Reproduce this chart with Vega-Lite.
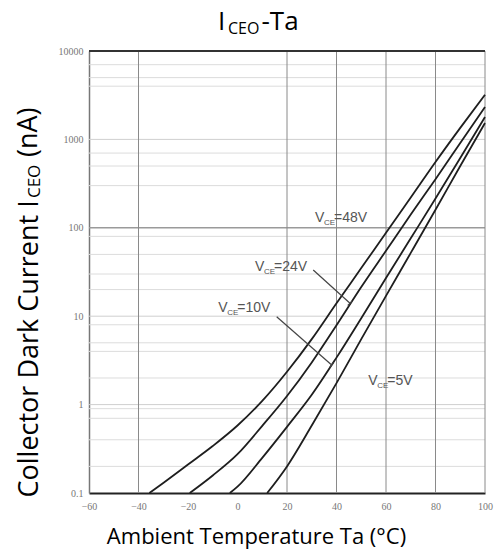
{
  "$schema": "https://vega.github.io/schema/vega-lite/v6.json",
  "description": "ICEO-Ta: Collector Dark Current ICEO (nA) vs Ambient Temperature Ta (°C)",
  "width": 396,
  "height": 442,
  "autosize": {"type": "none"},
  "padding": {"left": 89, "top": 51, "right": 10, "bottom": 63},
  "background": "white",
  "config": {"view": {"stroke": null}},
  "datasets": {
    "curves": [
      {"series": "48V", "T": -35.6, "I": 0.1},
      {"series": "48V", "T": -30, "I": 0.13},
      {"series": "48V", "T": -20, "I": 0.21},
      {"series": "48V", "T": -10, "I": 0.34},
      {"series": "48V", "T": 0, "I": 0.58},
      {"series": "48V", "T": 10, "I": 1.1},
      {"series": "48V", "T": 20, "I": 2.35},
      {"series": "48V", "T": 30, "I": 5.5},
      {"series": "48V", "T": 40, "I": 14},
      {"series": "48V", "T": 50, "I": 35},
      {"series": "48V", "T": 60, "I": 88},
      {"series": "48V", "T": 70, "I": 220},
      {"series": "48V", "T": 80, "I": 555},
      {"series": "48V", "T": 90, "I": 1350},
      {"series": "48V", "T": 100, "I": 3200},
      {"series": "24V", "T": -19.3, "I": 0.1},
      {"series": "24V", "T": -10, "I": 0.158},
      {"series": "24V", "T": 0, "I": 0.275},
      {"series": "24V", "T": 10, "I": 0.575},
      {"series": "24V", "T": 20, "I": 1.25},
      {"series": "24V", "T": 30, "I": 3.0},
      {"series": "24V", "T": 40, "I": 7.9},
      {"series": "24V", "T": 50, "I": 21.4},
      {"series": "24V", "T": 60, "I": 55},
      {"series": "24V", "T": 70, "I": 141},
      {"series": "24V", "T": 80, "I": 355},
      {"series": "24V", "T": 90, "I": 910},
      {"series": "24V", "T": 100, "I": 2330},
      {"series": "10V", "T": -3.1, "I": 0.1},
      {"series": "10V", "T": 0, "I": 0.118},
      {"series": "10V", "T": 10, "I": 0.25},
      {"series": "10V", "T": 20, "I": 0.56},
      {"series": "10V", "T": 30, "I": 1.29},
      {"series": "10V", "T": 40, "I": 3.4},
      {"series": "10V", "T": 50, "I": 9.5},
      {"series": "10V", "T": 60, "I": 27},
      {"series": "10V", "T": 70, "I": 76},
      {"series": "10V", "T": 80, "I": 214},
      {"series": "10V", "T": 90, "I": 615},
      {"series": "10V", "T": 100, "I": 1795},
      {"series": "5V", "T": 12, "I": 0.1},
      {"series": "5V", "T": 20, "I": 0.2},
      {"series": "5V", "T": 30, "I": 0.58},
      {"series": "5V", "T": 40, "I": 1.75},
      {"series": "5V", "T": 50, "I": 5.5},
      {"series": "5V", "T": 60, "I": 17},
      {"series": "5V", "T": 70, "I": 52},
      {"series": "5V", "T": 80, "I": 160},
      {"series": "5V", "T": 90, "I": 500},
      {"series": "5V", "T": 100, "I": 1535}
    ],
    "hminor": [
      {"I": 0.2}, {"I": 0.4}, {"I": 0.7}, {"I": 0.9},
      {"I": 2}, {"I": 4}, {"I": 5}, {"I": 8},
      {"I": 20}, {"I": 30}, {"I": 50},
      {"I": 80}, {"I": 300}, {"I": 500}, {"I": 700},
      {"I": 4000}, {"I": 5000}, {"I": 7000}
    ],
    "hmajor": [{"I": 1}, {"I": 10}, {"I": 1000}],
    "h100": [{"I": 100}],
    "vgrid": [{"T": -40}, {"T": 20}, {"T": 40}, {"T": 60}, {"T": 80}, {"T": 100}],
    "topline": [{"I": 10000}],
    "arrows": [
      {"T": 30.6, "I": 33.3, "T2": 45.45, "I2": 14.0},
      {"T": 44.55, "I": 13.2, "T2": 46.34, "I2": 14.8},
      {"T": 15.83, "I": 9.87, "T2": 38.06, "I2": 2.81},
      {"T": 37.25, "I": 2.64, "T2": 38.87, "I2": 2.98}
    ],
    "vce": [
      {"T": 31.3, "I": 116, "rest": "=48V"},
      {"T": 7.07, "I": 32.4, "rest": "=24V"},
      {"T": -7.76, "I": 11.1, "rest": "=10V"},
      {"T": 52.85, "I": 1.67, "rest": "=5V"}
    ],
    "titleMain": [
      {"T": -7.88, "I": 17290, "text": "I"},
      {"T": 9.7, "I": 17290, "text": "-Ta"}
    ],
    "titleSub": [{"T": -3.84, "I": 15570, "text": "CEO"}],
    "ySub": [{"T": -79.8, "I": 217, "text": "CEO"}],
    "yMain": [{"T": -81.0, "I": 632, "text": "(nA)"}]
  },
  "layer": [
    {
      "data": {"name": "hminor"},
      "mark": {"type": "rule", "color": "#dcdcdc", "strokeWidth": 1},
      "encoding": {
        "y": {
          "field": "I", "type": "quantitative",
          "scale": {"type": "log", "domain": [0.1, 10000], "nice": false},
          "axis": {
            "values": [0.1, 1, 10, 100, 1000, 10000],
            "grid": false, "ticks": false,
            "domainColor": "#777", "domainWidth": 1.5,
            "labelExpr": "datum.value < 1 ? '0.1' : format(datum.value, 'd')",
            "labelFont": "Liberation Sans Narrow", "labelFontSize": 10, "labelColor": "#777",
            "labelPadding": 6, "labelOverlap": false, "labelFlush": false,
            "title": "Collector Dark Current I",
            "titleFont": "Open Sans", "titleFontSize": 27, "titleFontWeight": "normal", "titleColor": "#000",
            "titleAngle": 270, "titleAlign": "left", "titleBaseline": "alphabetic",
            "titleX": -52, "titleY": 446
          }
        }
      }
    },
    {
      "data": {"name": "hmajor"},
      "mark": {"type": "rule", "color": "#cfcfcf", "strokeWidth": 1},
      "encoding": {"y": {"field": "I", "type": "quantitative"}}
    },
    {
      "data": {"name": "h100"},
      "mark": {"type": "rule", "color": "#9a9a9a", "strokeWidth": 1.5},
      "encoding": {"y": {"field": "I", "type": "quantitative"}}
    },
    {
      "data": {"name": "vgrid"},
      "mark": {"type": "rule", "color": "#8a8a8a", "strokeWidth": 1},
      "encoding": {
        "x": {
          "field": "T", "type": "quantitative",
          "scale": {"domain": [-60, 100], "nice": false, "zero": false},
          "axis": {
            "values": [-60, -40, -20, 0, 20, 40, 60, 80, 100],
            "grid": false, "ticks": false,
            "domainColor": "#222", "domainWidth": 2,
            "labelFont": "Liberation Sans Narrow", "labelFontSize": 10, "labelColor": "#777",
            "labelPadding": 8, "labelOverlap": false, "labelFlush": false,
            "title": "Ambient Temperature Ta (°C)",
            "titleFont": "Open Sans", "titleFontSize": 22, "titleFontWeight": "normal", "titleColor": "#000",
            "titleAlign": "center", "titleBaseline": "alphabetic",
            "titleX": 167, "titleY": 50
          }
        }
      }
    },
    {
      "data": {"name": "topline"},
      "mark": {"type": "rule", "color": "#333", "strokeWidth": 2},
      "encoding": {"y": {"field": "I", "type": "quantitative"}}
    },
    {
      "data": {"name": "curves"},
      "mark": {"type": "line", "color": "#1e1e1e", "strokeWidth": 1.8, "interpolate": "monotone"},
      "encoding": {
        "x": {"field": "T", "type": "quantitative"},
        "y": {"field": "I", "type": "quantitative"},
        "detail": {"field": "series"}
      }
    },
    {
      "data": {"name": "arrows"},
      "mark": {"type": "rule", "color": "#444", "strokeWidth": 1.2},
      "encoding": {
        "x": {"field": "T", "type": "quantitative"},
        "y": {"field": "I", "type": "quantitative"},
        "x2": {"field": "T2"},
        "y2": {"field": "I2"}
      }
    },
    {
      "data": {"name": "vce"},
      "mark": {"type": "text", "text": "V", "align": "left", "baseline": "alphabetic", "font": "Liberation Sans", "fontSize": 14, "color": "#555"},
      "encoding": {
        "x": {"field": "T", "type": "quantitative"},
        "y": {"field": "I", "type": "quantitative"}
      }
    },
    {
      "data": {"name": "vce"},
      "mark": {"type": "text", "text": "CE", "align": "left", "baseline": "alphabetic", "font": "Liberation Sans", "fontSize": 8, "color": "#555", "dx": 9, "dy": 3},
      "encoding": {
        "x": {"field": "T", "type": "quantitative"},
        "y": {"field": "I", "type": "quantitative"}
      }
    },
    {
      "data": {"name": "vce"},
      "mark": {"type": "text", "align": "left", "baseline": "alphabetic", "font": "Liberation Sans", "fontSize": 14, "color": "#555", "dx": 19},
      "encoding": {
        "x": {"field": "T", "type": "quantitative"},
        "y": {"field": "I", "type": "quantitative"},
        "text": {"field": "rest"}
      }
    },
    {
      "data": {"name": "titleMain"},
      "mark": {"type": "text", "align": "left", "baseline": "alphabetic", "font": "Open Sans", "fontSize": 26, "color": "#000"},
      "encoding": {
        "x": {"field": "T", "type": "quantitative"},
        "y": {"field": "I", "type": "quantitative"},
        "text": {"field": "text"}
      }
    },
    {
      "data": {"name": "titleSub"},
      "mark": {"type": "text", "align": "left", "baseline": "alphabetic", "font": "Open Sans", "fontSize": 16, "color": "#000"},
      "encoding": {
        "x": {"field": "T", "type": "quantitative"},
        "y": {"field": "I", "type": "quantitative"},
        "text": {"field": "text"}
      }
    },
    {
      "data": {"name": "ySub"},
      "mark": {"type": "text", "align": "left", "baseline": "alphabetic", "angle": 270, "font": "Open Sans", "fontSize": 17, "color": "#000"},
      "encoding": {
        "x": {"field": "T", "type": "quantitative"},
        "y": {"field": "I", "type": "quantitative"},
        "text": {"field": "text"}
      }
    },
    {
      "data": {"name": "yMain"},
      "mark": {"type": "text", "align": "left", "baseline": "alphabetic", "angle": 270, "font": "Open Sans", "fontSize": 27, "color": "#000"},
      "encoding": {
        "x": {"field": "T", "type": "quantitative"},
        "y": {"field": "I", "type": "quantitative"},
        "text": {"field": "text"}
      }
    }
  ]
}
